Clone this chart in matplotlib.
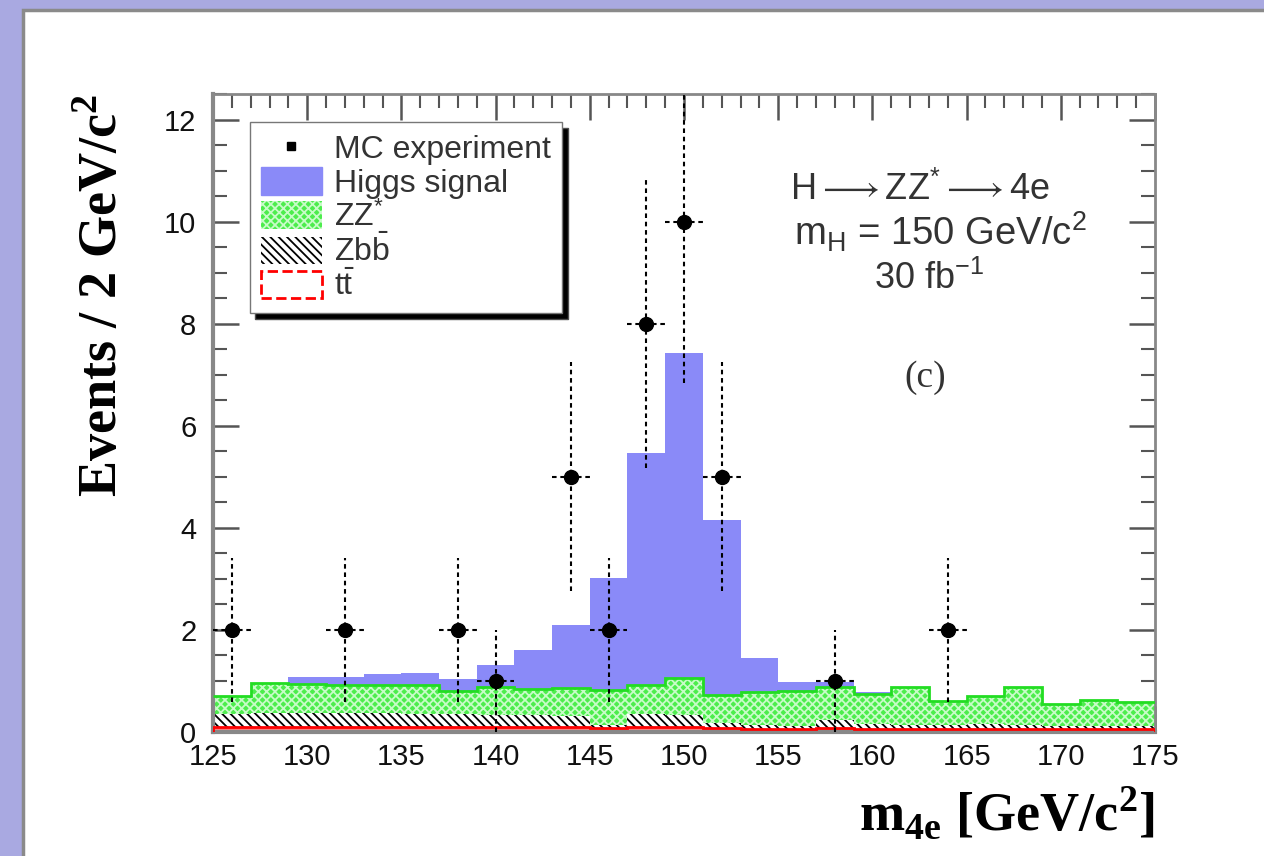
import numpy as np
import matplotlib
matplotlib.use("Agg")
import matplotlib.pyplot as plt
from matplotlib.patches import Patch, Rectangle
from matplotlib.lines import Line2D

# bins of 2 GeV from 125 to 175
edges = np.arange(125, 177, 2)

# stacked backgrounds and signal, events per bin
tt = [0.10, 0.10, 0.10, 0.10, 0.10, 0.10, 0.10, 0.10, 0.10, 0.10, 0.08, 0.10, 0.10,
      0.08, 0.06, 0.06, 0.08, 0.06, 0.06, 0.05, 0.06, 0.05, 0.05, 0.05, 0.05]
zbb = [0.25, 0.28, 0.28, 0.28, 0.28, 0.26, 0.26, 0.24, 0.24, 0.22, 0.05, 0.26, 0.24,
       0.10, 0.08, 0.06, 0.16, 0.10, 0.08, 0.08, 0.10, 0.08, 0.06, 0.06, 0.06]
zz = [0.35, 0.58, 0.57, 0.55, 0.55, 0.57, 0.44, 0.54, 0.51, 0.54, 0.69, 0.56, 0.72,
      0.55, 0.64, 0.68, 0.64, 0.59, 0.74, 0.47, 0.54, 0.75, 0.44, 0.51, 0.47]
higgs = [0.0, 0.0, 0.12, 0.14, 0.21, 0.22, 0.24, 0.44, 0.75, 1.24, 2.20, 4.55, 6.37,
         3.43, 0.67, 0.18, 0.10, 0.03, 0.0, 0.0, 0.0, 0.0, 0.0, 0.0, 0.0]

# MC experiment points
data_x = [126, 132, 138, 140, 144, 146, 148, 150, 152, 158, 164]
data_y = [2, 2, 2, 1, 5, 2, 8, 10, 5, 1, 2]
data_err = [1.41, 1.41, 1.41, 1.0, 2.24, 1.41, 2.83, 3.16, 2.24, 1.0, 1.41]

plt.rcParams['font.family'] = ['Liberation Sans', 'DejaVu Sans']
plt.rcParams['mathtext.fontset'] = 'custom'
plt.rcParams['mathtext.rm'] = 'Liberation Sans'
plt.rcParams['mathtext.sf'] = 'Liberation Sans'
plt.rcParams['mathtext.it'] = 'Liberation Sans:italic'
plt.rcParams['mathtext.bf'] = 'Liberation Serif:bold'
plt.rcParams['mathtext.fallback'] = 'stixsans'
plt.rcParams['hatch.linewidth'] = 1.3

fig = plt.figure(figsize=(12.64, 8.56), dpi=100, facecolor='#a9a9e1')
fig.patches.append(Rectangle((23 / 1264, -0.05), 1.2, 1.05 - 10 / 856,
                             transform=fig.transFigure, facecolor='white',
                             edgecolor='#8a8a8a', lw=2.5, zorder=-1))

ax = fig.add_axes([213 / 1264, 124 / 856, 942 / 1264, 638 / 856])
ax.set_facecolor('white')

c1 = np.array(tt)
c2 = c1 + np.array(zbb)
c3 = c2 + np.array(zz)
c4 = c3 + np.array(higgs)

blue = '#8a8af8'
green = '#4ded4d'

# ttbar
ax.stairs(c1, edges, baseline=0, fill=True, facecolor='#ff8080', edgecolor='none', zorder=2)
ax.stairs(c1, edges, baseline=0, color='red', lw=2, zorder=3)
# Zbb
ax.stairs(c2, edges, baseline=c1, fill=True, facecolor='white', edgecolor='none', zorder=2)
ax.stairs(c2, edges, baseline=c1, fill=True, facecolor='none', edgecolor='black',
          hatch='\\\\\\\\', lw=0, zorder=2)
# ZZ*
ax.stairs(c3, edges, baseline=c2, fill=True, facecolor=green, edgecolor='none', zorder=2)
ax.stairs(c3, edges, baseline=c2, fill=True, facecolor='none', edgecolor='#c8fcc8',
          hatch='xxxx', lw=0, zorder=2)
ax.stairs(c3, edges, baseline=None, color='#22dd22', lw=2, zorder=3)
# Higgs
ax.stairs(c4, edges, baseline=c3, fill=True, facecolor=blue, edgecolor='none', zorder=2)

# data
eb = ax.errorbar(data_x, data_y, yerr=data_err, xerr=1, fmt='o', color='black',
                 ms=10, elinewidth=1.5, capsize=0, zorder=5)
for lc in eb[2]:
    lc.set_linestyle((0, (2.2, 1.8)))

ax.set_xlim(125, 175)
ax.set_ylim(0, 12.5)
ax.set_xticks(np.arange(125, 176, 5))
ax.set_xticks(np.arange(125, 176, 1), minor=True)
ax.set_yticks(np.arange(0, 13, 2))
ax.set_yticks(np.arange(0, 12.6, 0.5), minor=True)
ax.tick_params(which='both', direction='in', top=True, right=True, colors='#555555',
               labelcolor='#111111', labelsize=21)
ax.tick_params(which='major', length=19, width=1.8)
ax.tick_params(which='minor', length=10, width=1.5)
ax.tick_params(axis='x', pad=8)
ax.tick_params(axis='y', pad=12)
for s in ['left', 'bottom']:
    ax.spines[s].set_linewidth(3)
    ax.spines[s].set_color('#888888')
for s in ['top', 'right']:
    ax.spines[s].set_linewidth(2)
    ax.spines[s].set_color('#888888')

ax.set_ylabel('Events / 2 GeV/c$^{\\mathbf{2}}$', family='Liberation Serif',
              weight='bold', fontsize=39, loc='top')
ax.yaxis.set_label_coords(-0.089, 1.0)
ax.set_xlabel('m$_{\\mathbf{4e}}$ [GeV/c$^{\\mathbf{2}}$]', family='Liberation Serif',
              weight='bold', fontsize=39, loc='right')
ax.xaxis.set_label_coords(1.0, -0.085)

txtc = '#333333'
ax.text(0.7505, 0.834, 'H$\\longrightarrow$ZZ$^{*}$$\\longrightarrow$4e',
        transform=ax.transAxes, ha='center', va='baseline', fontsize=26, color=txtc)
ax.text(0.772, 0.763, 'm$_{\\mathrm{H}}$ = 150 GeV/c$^{2}$', transform=ax.transAxes,
        ha='center', va='baseline', fontsize=27.5, color=txtc)
ax.text(0.760, 0.694, '30 fb$^{-1}$', transform=ax.transAxes,
        ha='center', va='baseline', fontsize=26, color=txtc)
ax.text(0.756, 0.555, '(c)', transform=ax.transAxes, family='Liberation Serif',
        ha='center', va='center', fontsize=27, color=txtc)

handles = [
    Line2D([], [], marker='s', ls='none', color='black', ms=6),
    Patch(facecolor=blue, edgecolor=blue),
    Patch(facecolor=green, edgecolor='#c8fcc8', hatch='xxxx', lw=0),
    Patch(facecolor='white', edgecolor='black', hatch='\\\\\\\\', lw=0),
    Patch(facecolor='white', edgecolor='red', ls='--', lw=2),
]
labels = ['MC experiment', 'Higgs signal', 'ZZ$^{*}$', 'Zb$\\bar{\\mathrm{b}}$',
          't$\\bar{\\mathrm{t}}$']
leg = ax.legend(handles, labels, loc='upper left', bbox_to_anchor=(0.039, 0.956),
                borderaxespad=0, fontsize=23, fancybox=False, frameon=True,
                edgecolor='#777777', framealpha=1, handlelength=1.9, handleheight=0.95,
                labelspacing=0.07, handletextpad=0.4, borderpad=0.35,
                shadow={'ox': 4, 'oy': -4, 'facecolor': 'black', 'alpha': 1})
for t in leg.get_texts():
    t.set_color(txtc)
leg.set_zorder(10)

fig.savefig('out.png', dpi=100, facecolor=fig.get_facecolor())
